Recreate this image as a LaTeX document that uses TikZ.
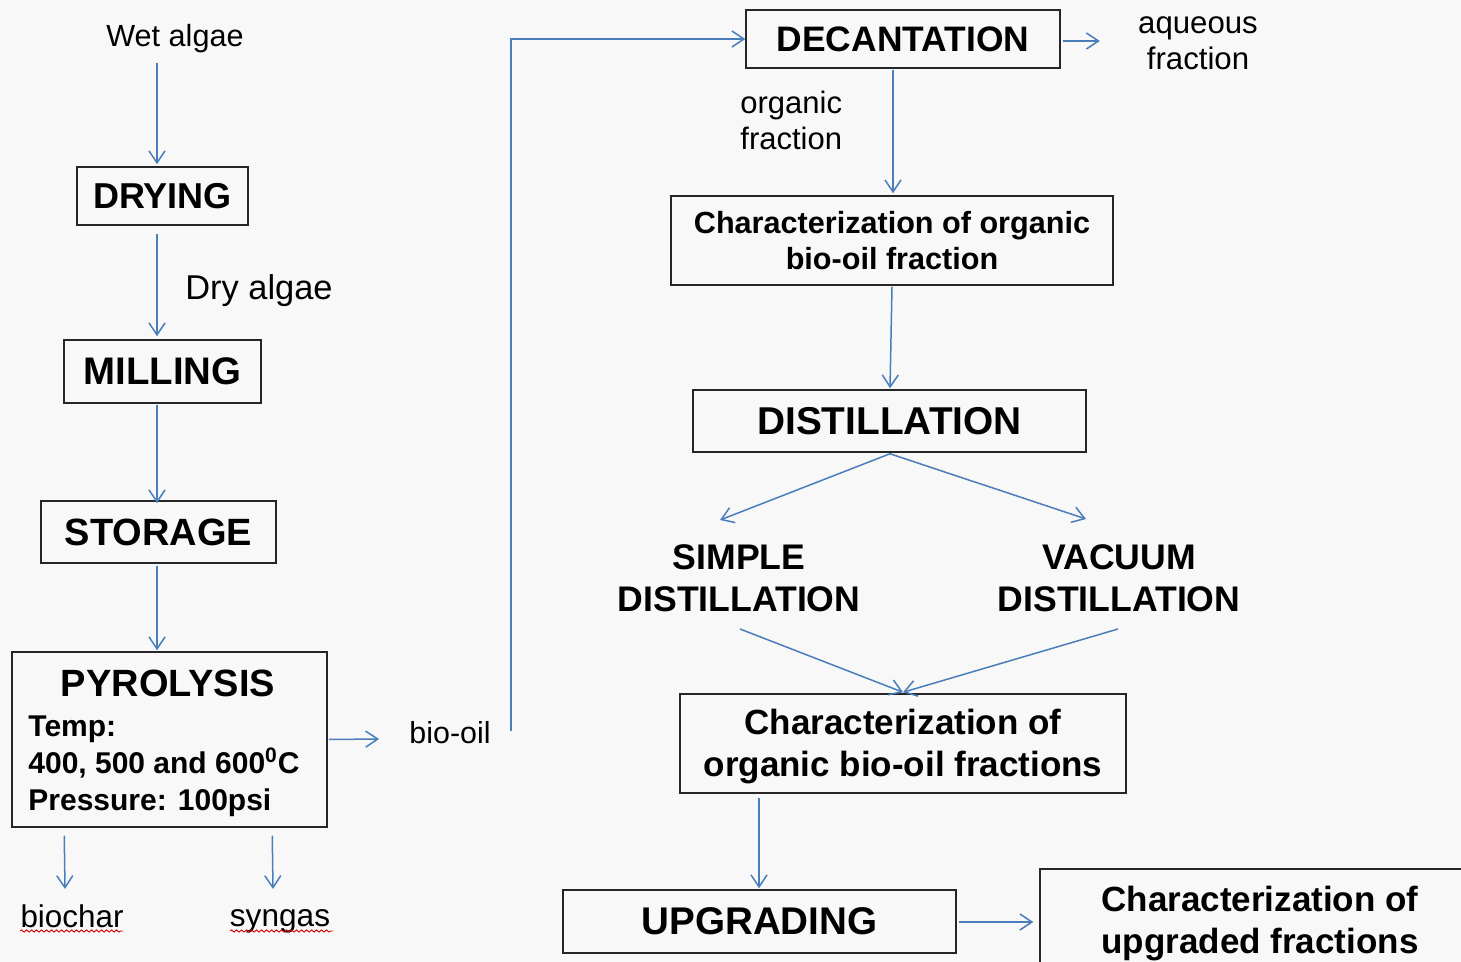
\documentclass[tikz,border=0pt]{standalone}
\usepackage{fontspec}
\setmainfont{Liberation Sans}
\usetikzlibrary{arrows.meta,calc,decorations.pathmorphing}
\definecolor{flow}{HTML}{4A7EBB}
\definecolor{paper}{HTML}{F8F8F8}
\newcommand{\fsz}[2]{\fontsize{#1}{#2}\selectfont}

\begin{document}
\begin{tikzpicture}[x=0.5pt,y=-0.5pt,
  box/.style={draw=black!85,line width=0.75pt,inner sep=0pt,align=center,font=\bfseries},
  lbl/.style={inner sep=0pt,align=center},
  arr/.style={draw=flow,line width=0.75pt,-{Straight Barb[length=6pt,width=8pt,line width=0.75pt]}},
  spell/.style={draw=red!85!black,line width=0.45pt,decorate,
    decoration={snake,amplitude=0.55pt,segment length=2.5pt}}]

% page
\fill[paper] (0,0) rectangle (1461,962);
\useasboundingbox (0,0) rectangle (1461,962);

% ---- left column: pretreatment and pyrolysis ----
\node[lbl,font=\fsz{15.3}{18}] (wet) at (175,39) {Wet algae};
\node[box,font=\bfseries\fsz{18}{20},minimum width=85.5pt,minimum height=29pt] (drying) at (162.5,196) {DRYING};
\node[lbl,font=\fsz{17.2}{20}] (dry) at (259,291) {Dry algae};
\node[box,font=\bfseries\fsz{19.2}{22},minimum width=98.5pt,minimum height=31.5pt] (milling) at (162.5,371.5) {MILLING};
\node[box,font=\bfseries\fsz{19}{22},minimum width=117.5pt,minimum height=31pt] (storage) at (158.5,532) {STORAGE};
\node[box,minimum width=157.5pt,minimum height=87.5pt] (pyro) at (169.5,739.5) {};
\node[lbl,font=\bfseries\fsz{19}{22}] (pyrotitle) at (168,683) {PYROLYSIS};
\node[lbl,anchor=west,align=left,font=\bfseries\fsz{15}{18.5}] (pyrocond) at (28,766)
  {Temp:\\400, 500 and 600\textsuperscript{0}C\\Pressure: 100psi};
\node[lbl,font=\fsz{15.2}{18}] (biooil) at (450,733) {bio-oil};
\node[lbl,font=\fsz{15.7}{18}] (biochar) at (72,916) {biochar};
\node[lbl,font=\fsz{15.8}{18}] (syngas) at (280,921) {syngas};

% spell-check marks under the product names
\draw[spell] (20,931) -- (123,931);
\draw[spell] (230,931) -- (333,931);

% ---- right column: bio-oil treatment ----
\node[box,font=\bfseries\fsz{17.7}{20},minimum width=157pt,minimum height=29pt] (decant) at (903,39) {DECANTATION};
\node[lbl,font=\fsz{15.6}{18}] (aqueous) at (1198,43) {aqueous\\fraction};
\node[lbl,anchor=west,align=left,font=\fsz{15.5}{18}] (organic) at (740,120) {organic\\fraction};
\node[box,font=\bfseries\fsz{15.3}{18},minimum width=221pt,minimum height=44.5pt] (char1) at (892,240.5)
  {Characterization of organic\\bio-oil fraction};
\node[box,font=\bfseries\fsz{19.4}{22},minimum width=196.5pt,minimum height=31pt] (distill) at (889.5,421) {DISTILLATION};
\node[lbl,font=\bfseries\fsz{17.8}{21}] (simple) at (739,578) {SIMPLE\\DISTILLATION};
\node[lbl,font=\bfseries\fsz{17.8}{21}] (vacuum) at (1119,578) {VACUUM\\DISTILLATION};
\node[box,minimum width=223pt,minimum height=49.5pt] (char2) at (903,743.5) {};
\node[lbl,font=\bfseries\fsz{17.5}{21}] (char2txt) at (903,746.5)
  {Characterization of\\organic bio-oil fractions};
\node[box,font=\bfseries\fsz{19.3}{22},minimum width=196.5pt,minimum height=31.5pt] (upgrade) at (759.5,921.5) {UPGRADING};
\node[box,minimum width=220pt,minimum height=53pt] (char3) at (1260,922) {};
\node[lbl,font=\bfseries\fsz{17.5}{21}] (char3txt) at (1260,924) {Characterization of\\upgraded fractions};

% ---- connectors ----
\draw[arr] ($(wet.center)+(-18,24)$) -- ($(drying.north)+(-5.5,-2)$);
\draw[arr] ($(drying.south)+(-5.5,8)$) -- ($(milling.north)+(-5.5,-3)$);
\draw[arr] ($(milling.south)+(-5.5,1)$) -- ($(storage.north)+(-1.5,3)$);
\draw[arr] ($(storage.south)+(-1.5,2)$) -- ($(pyro.north)+(-12.5,-1)$);
\draw[arr] ($(pyro.east)+(1,0)$) -- ($(biooil.west)+(-30,6)$);
\draw[arr] ($(pyro.south west)+(53,8)$) -- ($(biochar.center)+(-7,-27)$);
\draw[arr] ($(pyro.south west)+(261,8)$) -- ($(syngas.center)+(-7,-32)$);
\draw[arr] ($(biooil.east)+(20,-2)$) |- (decant.west);
\draw[arr] ($(decant.east)+(2,2)$) -- ($(aqueous.west)+(-38,-2)$);
\draw[arr] ($(decant.south)+(-10,1)$) -- ($(char1.north)+(1,-2)$);
\draw[arr] ($(char1.south)+(0,1)$) -- ($(distill.north)+(0.5,-1)$);
\draw[arr] ($(distill.south)+(0.5,1)$) -- ($(simple.center)+(-19,-58)$);
\draw[arr] ($(distill.south)+(0.5,1)$) -- ($(vacuum.center)+(-33,-59)$);
\draw[arr] ($(simple.center)+(1,51)$) -- ($(char2.north)+(0,-1)$);
\draw[arr] ($(vacuum.center)+(-1,51)$) -- ($(char2.north)+(0,-1)$);
\draw[arr] ($(char2.south)+(-144,4)$) -- ($(upgrade.north)+(-0.5,-1)$);
\draw[arr] ($(upgrade.east)+(2,0.5)$) -- ($(char3.west)+(-6,0)$);
\end{tikzpicture}
\end{document}
